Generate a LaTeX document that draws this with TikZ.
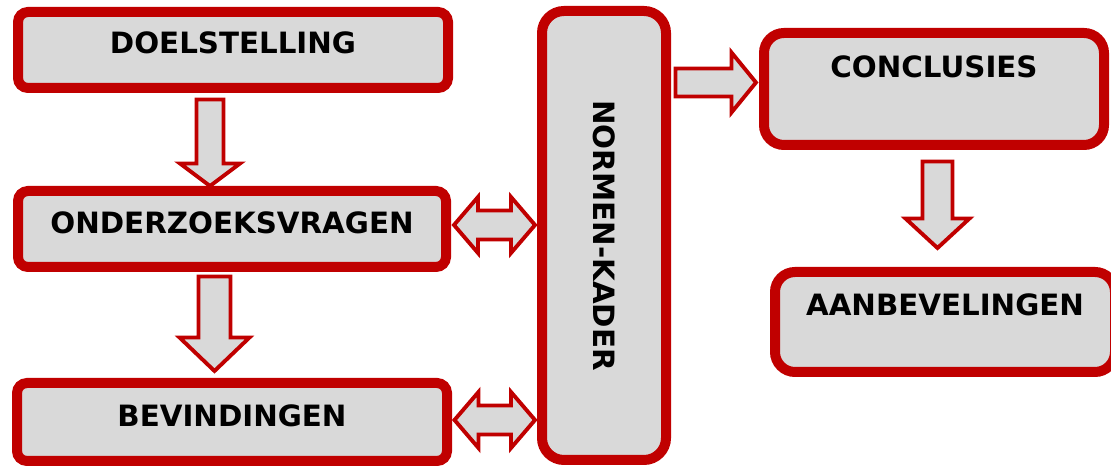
\documentclass[tikz,border=0pt]{standalone}
\usepackage{fontspec}
\setmainfont{DejaVu Sans}
\usetikzlibrary{calc}

\definecolor{kader}{HTML}{C00000}
\definecolor{vlak}{HTML}{D9D9D9}

\tikzset{
  vak/.style={draw=kader,fill=vlak,line width=7.5pt,inner sep=0pt},
  tekstvak/.style={vak,rounded corners=7.5pt,font=\fontsize{22pt}{26pt}\selectfont\bfseries,
    text height=16pt,text depth=9pt},
  pijl/.style={draw=kader,fill=vlak,line width=2.9pt},
  % #1 half shaft, #2 half head, #3 head length
  omlaag/.style n args={3}{pijl,to path={
    ($(\tikztostart)+(-#1,0)$) -- ($(\tikztotarget)+(-#1,-#3)$) -- ($(\tikztotarget)+(-#2,-#3)$)
    -- (\tikztotarget) -- ($(\tikztotarget)+(#2,-#3)$) -- ($(\tikztotarget)+(#1,-#3)$)
    -- ($(\tikztostart)+(#1,0)$) -- cycle}},
  rechts/.style n args={3}{pijl,to path={
    ($(\tikztostart)+(0,-#1)$) -- ($(\tikztotarget)+(-#3,-#1)$) -- ($(\tikztotarget)+(-#3,-#2)$)
    -- (\tikztotarget) -- ($(\tikztotarget)+(-#3,#2)$) -- ($(\tikztotarget)+(-#3,#1)$)
    -- ($(\tikztostart)+(0,#1)$) -- cycle}},
  dubbel/.style n args={3}{pijl,to path={
    -- ($(\tikztostart)+(#3,-#2)$) -- ($(\tikztostart)+(#3,-#1)$)
    -- ($(\tikztotarget)+(-#3,-#1)$) -- ($(\tikztotarget)+(-#3,-#2)$)
    -- (\tikztotarget) -- ($(\tikztotarget)+(-#3,#2)$) -- ($(\tikztotarget)+(-#3,#1)$)
    -- ($(\tikztostart)+(#3,#1)$) -- ($(\tikztostart)+(#3,#2)$) -- cycle}}
}

\begin{document}
\begin{tikzpicture}[x=0.75pt,y=-0.75pt]
  \useasboundingbox (0,0) rectangle (1111,466);

  % boxes
  \node[tekstvak,minimum width=322.5pt,minimum height=57pt,text depth=10.5pt] (doel) at (233,50) {DOELSTELLING};
  \node[tekstvak,minimum width=321pt,minimum height=57pt] (onder) at (232,229) {ONDERZOEKSVRAGEN};
  \node[tekstvak,minimum width=322.5pt,minimum height=58.5pt] (bevind) at (232,422) {BEVINDINGEN};
  \node[vak,rounded corners=16.5pt,minimum width=93pt,minimum height=336.75pt,
    font=\fontsize{22pt}{26pt}\selectfont\bfseries] (normen) at (604,235.5) {\rotatebox{-90}{NORMEN-KADER}};
  \node[tekstvak,rounded corners=15pt,minimum width=255pt,minimum height=84pt,text depth=33pt] (concl) at (934,89) {CONCLUSIES};
  \node[tekstvak,rounded corners=15pt,minimum width=255pt,minimum height=75pt,text depth=25.5pt] (aanbev) at (945,322) {AANBEVELINGEN};

  % arrows
  \coordinate (p1s) at ($(doel.south)+(-23,6.5)$);
  \coordinate (p1e) at ($(onder.north)+(-22,0)$);
  \coordinate (p2s) at ($(onder.south)+(-17.5,4.5)$);
  \coordinate (p2e) at ($(bevind.north)+(-17.5,-7)$);
  \coordinate (p3s) at ($(concl.west)+(-83.5,-6.5)$);
  \coordinate (p3e) at ($(concl.west)+(-3,-6.5)$);
  \coordinate (p4s) at ($(concl.south)+(3.5,11.5)$);
  \coordinate (p4e) at ($(aanbev.north)+(-7.5,-19)$);
  \coordinate (d1s) at ($(onder.east)+(3,-4)$);
  \coordinate (d1e) at ($(d1s -| normen.west)+(-2,0)$);
  \coordinate (d2s) at ($(bevind.east)+(2.5,-2)$);
  \coordinate (d2e) at ($(d2s -| normen.west)+(-2,0)$);

  \draw[omlaag={13.5}{30}{22.5}] (p1s) to (p1e);
  \draw[omlaag={16}{35}{33.5}] (p2s) to (p2e);
  \draw[rechts={14}{30}{24.5}] (p3s) to (p3e);
  \draw[omlaag={15}{32}{29.5}] (p4s) to (p4e);
  \draw[dubbel={14.5}{28}{24}] (d1s) to (d1e);
  \draw[dubbel={14.5}{28}{24}] (d2s) to (d2e);
\end{tikzpicture}
\end{document}
